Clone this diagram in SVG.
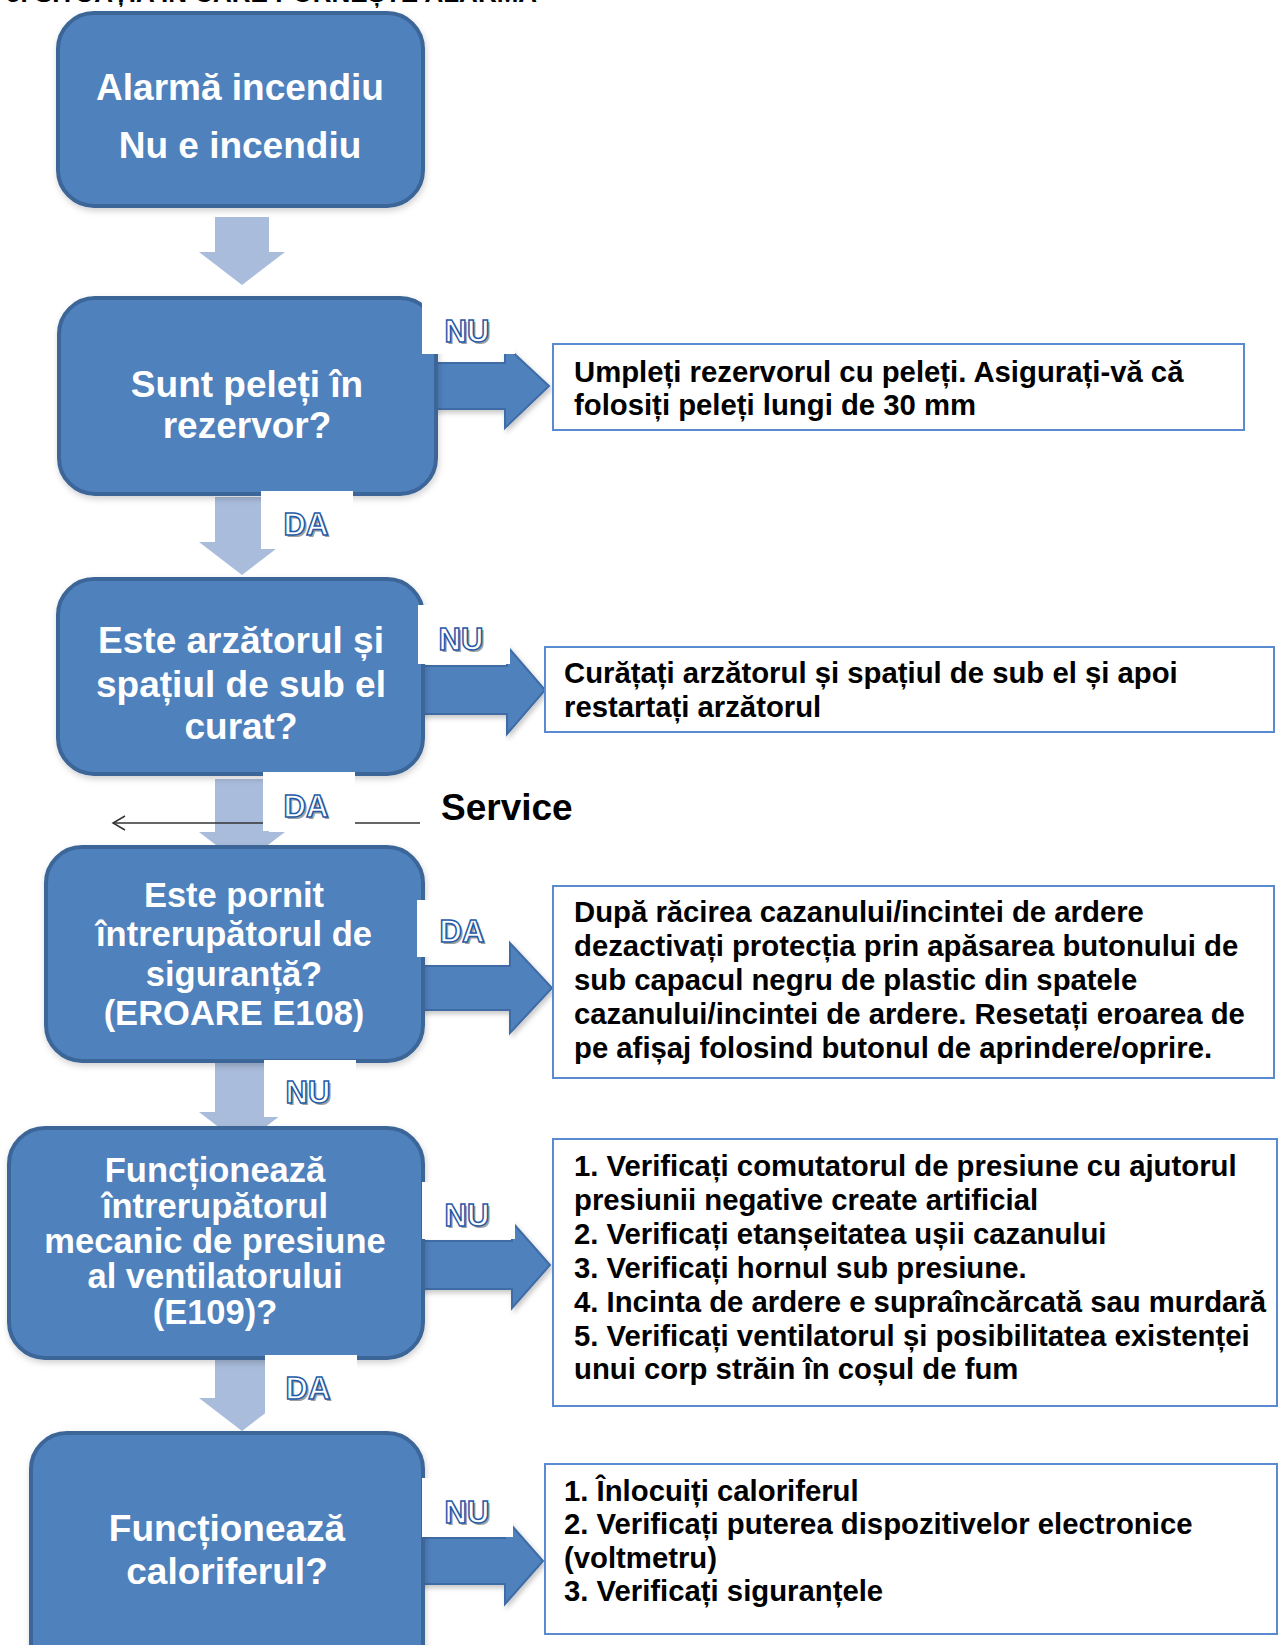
<svg xmlns="http://www.w3.org/2000/svg" width="1279" height="1645" viewBox="0 0 1279 1645">
<defs>
<style>
.node{fill:#4F81BD;stroke:#3D6698;stroke-width:4;filter:url(#sh)}
.nt{font-family:"Liberation Sans",Arial,sans-serif;font-weight:bold;fill:#FFFFFF;text-anchor:middle}
.box{fill:#FFFFFF;stroke:#5A8AD0;stroke-width:2}
.bt{font-family:"Liberation Sans",Arial,sans-serif;font-weight:bold;fill:#000000;font-size:29.3px}
.down{fill:#A9BCDB}
.right{fill:#4F81BD;stroke:#3F6CA6;stroke-width:2;filter:url(#sh2)}
.lbl{fill:#FFFFFF}
.lt{font-family:"Liberation Sans",Arial,sans-serif;font-weight:bold;font-size:31px;text-anchor:middle;fill:#FFFFFF;stroke:#1F5AA8;stroke-width:1.5}
.ls{font-family:"Liberation Sans",Arial,sans-serif;font-weight:bold;font-size:31px;text-anchor:middle;fill:#A0A0A0}
</style>
<filter id="sh" x="-10%" y="-10%" width="120%" height="125%">
<feDropShadow dx="1" dy="3" stdDeviation="3" flood-color="#000" flood-opacity="0.18"/>
</filter>
<filter id="sh2" x="-10%" y="-10%" width="125%" height="130%">
<feDropShadow dx="2" dy="3" stdDeviation="2.5" flood-color="#000" flood-opacity="0.22"/>
</filter>
<marker id="open" markerWidth="16" markerHeight="16" refX="13" refY="8" orient="auto" markerUnits="userSpaceOnUse">
<path d="M1,1 L13,8 L1,15" fill="none" stroke="#333" stroke-width="1.5"/>
</marker>
</defs>
<rect width="1279" height="1645" fill="#FFFFFF"/>
<text x="6" y="2" style="font-family:'Liberation Sans',Arial,sans-serif;font-weight:bold;font-size:26px" fill="#000">5. SITUAȚIA ÎN CARE PORNEȘTE ALARMA</text>

<g id="connectors">
<polygon class="down" points="215,217 269,217 269,252 285,252 242,285 199,252 215,252"/>
<polygon class="down" points="215,497 269,497 269,542 285,542 242,575 199,542 215,542"/>
<polygon class="down" points="215,779 269,779 269,832 285,832 242,865 199,832 215,832"/>
<polygon class="down" points="215,1063 269,1063 269,1112 285,1112 242,1145 199,1112 215,1112"/>
<polygon class="down" points="215,1360 269,1360 269,1398 285,1398 242,1431 199,1398 215,1398"/>
<polygon class="right" points="430,363 505,363 505,345 549,386 505,428 505,409 430,409"/>
<polygon class="right" points="418,666 507,666 507,646 545,690 507,734 507,714 418,714"/>
<polygon class="right" points="418,966 510,966 510,943 552,988 510,1033 510,1010 418,1010"/>
<polygon class="right" points="418,1241 512,1241 512,1222 550,1265 512,1308 512,1289 418,1289"/>
<polygon class="right" points="418,1538 505,1538 505,1518 543,1561 505,1604 505,1584 418,1584"/>
<line x1="420" y1="823" x2="113" y2="823" stroke="#333" stroke-width="1.3" marker-end="url(#open)"/>
</g>

<g id="node-alarma">
<rect class="node" x="58" y="13" width="365" height="193" rx="36"/>
<text class="nt" font-size="37" x="240" y="100">Alarmă incendiu</text>
<text class="nt" font-size="37" x="240" y="158">Nu e incendiu</text>
</g>
<g id="node-peleti">
<rect class="node" x="59" y="298" width="377" height="196" rx="36"/>
<text class="nt" font-size="37" x="247" y="397">Sunt peleți în</text>
<text class="nt" font-size="37" x="247" y="438">rezervor?</text>
</g>
<g id="node-arzator">
<rect class="node" x="58" y="579" width="365" height="195" rx="36"/>
<text class="nt" font-size="37" x="241" y="653">Este arzătorul și</text>
<text class="nt" font-size="37" x="241" y="697">spațiul de sub el</text>
<text class="nt" font-size="37" x="241" y="739">curat?</text>
</g>
<g id="node-intrerupator">
<rect class="node" x="46" y="847" width="377" height="214" rx="36"/>
<text class="nt" font-size="34.5" x="234" y="907">Este pornit</text>
<text class="nt" font-size="34.5" x="234" y="946">întrerupătorul de</text>
<text class="nt" font-size="34.5" x="234" y="986">siguranță?</text>
<text class="nt" font-size="34.5" x="234" y="1025">(EROARE E108)</text>
</g>
<g id="node-presiune">
<rect class="node" x="9" y="1128" width="414" height="230" rx="36"/>
<text class="nt" font-size="34.5" x="215" y="1182">Funcționează</text>
<text class="nt" font-size="34.5" x="215" y="1218">întrerupătorul</text>
<text class="nt" font-size="34.5" x="215" y="1253">mecanic de presiune</text>
<text class="nt" font-size="34.5" x="215" y="1288">al ventilatorului</text>
<text class="nt" font-size="34.5" x="215" y="1324">(E109)?</text>
</g>
<g id="node-calorifer">
<rect class="node" x="31" y="1433" width="392" height="260" rx="36"/>
<text class="nt" font-size="37" x="227" y="1541">Funcționează</text>
<text class="nt" font-size="37" x="227" y="1584">caloriferul?</text>
</g>

<g id="box-umpleti">
<rect class="box" x="553" y="344" width="691" height="86"/>
<text class="bt" x="574" y="382">Umpleți rezervorul cu peleți. Asigurați-vă că</text>
<text class="bt" x="574" y="415">folosiți peleți lungi de 30 mm</text>
</g>
<g id="box-curatati">
<rect class="box" x="545" y="647" width="729" height="85"/>
<text class="bt" x="564" y="683">Curățați arzătorul și spațiul de sub el și apoi</text>
<text class="bt" x="564" y="717">restartați arzătorul</text>
</g>
<g id="box-racire">
<rect class="box" x="553" y="886" width="721" height="192"/>
<text class="bt" x="574" y="922">După răcirea cazanului/incintei de ardere</text>
<text class="bt" x="574" y="956">dezactivați protecția prin apăsarea butonului de</text>
<text class="bt" x="574" y="990">sub capacul negru de plastic din spatele</text>
<text class="bt" x="574" y="1024">cazanului/incintei de ardere. Resetați eroarea de</text>
<text class="bt" x="574" y="1058">pe afișaj folosind butonul de aprindere/oprire.</text>
</g>
<g id="box-verificati">
<rect class="box" x="553" y="1139" width="724" height="267"/>
<text class="bt" x="574" y="1176">1. Verificați comutatorul de presiune cu ajutorul</text>
<text class="bt" x="574" y="1210">presiunii negative create artificial</text>
<text class="bt" x="574" y="1244">2. Verificați etanșeitatea ușii cazanului</text>
<text class="bt" x="574" y="1278">3. Verificați hornul sub presiune.</text>
<text class="bt" x="574" y="1312">4. Incinta de ardere e supraîncărcată sau murdară</text>
<text class="bt" x="574" y="1346">5. Verificați ventilatorul și posibilitatea existenței</text>
<text class="bt" x="574" y="1379">unui corp străin în coșul de fum</text>
</g>
<g id="box-calorifer">
<rect class="box" x="545" y="1464" width="732" height="170"/>
<text class="bt" x="564" y="1501">1. Înlocuiți caloriferul</text>
<text class="bt" x="564" y="1534">2. Verificați puterea dispozitivelor electronice</text>
<text class="bt" x="564" y="1568">(voltmetru)</text>
<text class="bt" x="564" y="1601">3. Verificați siguranțele</text>
</g>

<g id="service">
<text x="441" y="820" style="font-family:'Liberation Sans',Arial,sans-serif;font-weight:bold;font-size:37px" fill="#000">Service</text>
</g>

<g id="connector-labels">
<rect class="lbl" x="422" y="302" width="93" height="52"/>
<text class="ls" x="469" y="344">NU</text><text class="lt" x="467" y="342">NU</text>
<rect class="lbl" x="261" y="491" width="92" height="58"/>
<text class="ls" x="308" y="537">DA</text><text class="lt" x="306" y="535">DA</text>
<rect class="lbl" x="418" y="605" width="92" height="59"/>
<text class="ls" x="463" y="652">NU</text><text class="lt" x="461" y="650">NU</text>
<rect class="lbl" x="263" y="772" width="92" height="59"/>
<text class="ls" x="308" y="819">DA</text><text class="lt" x="306" y="817">DA</text>
<rect class="lbl" x="417" y="900" width="92" height="57"/>
<text class="ls" x="464" y="944">DA</text><text class="lt" x="462" y="942">DA</text>
<rect class="lbl" x="264" y="1060" width="92" height="57"/>
<text class="ls" x="310" y="1105">NU</text><text class="lt" x="308" y="1103">NU</text>
<rect class="lbl" x="422" y="1182" width="93" height="57"/>
<text class="ls" x="469" y="1228">NU</text><text class="lt" x="467" y="1226">NU</text>
<rect class="lbl" x="265" y="1355" width="92" height="59"/>
<text class="ls" x="310" y="1401">DA</text><text class="lt" x="308" y="1399">DA</text>
<rect class="lbl" x="422" y="1478" width="91" height="59"/>
<text class="ls" x="469" y="1525">NU</text><text class="lt" x="467" y="1523">NU</text>
</g>
</svg>
